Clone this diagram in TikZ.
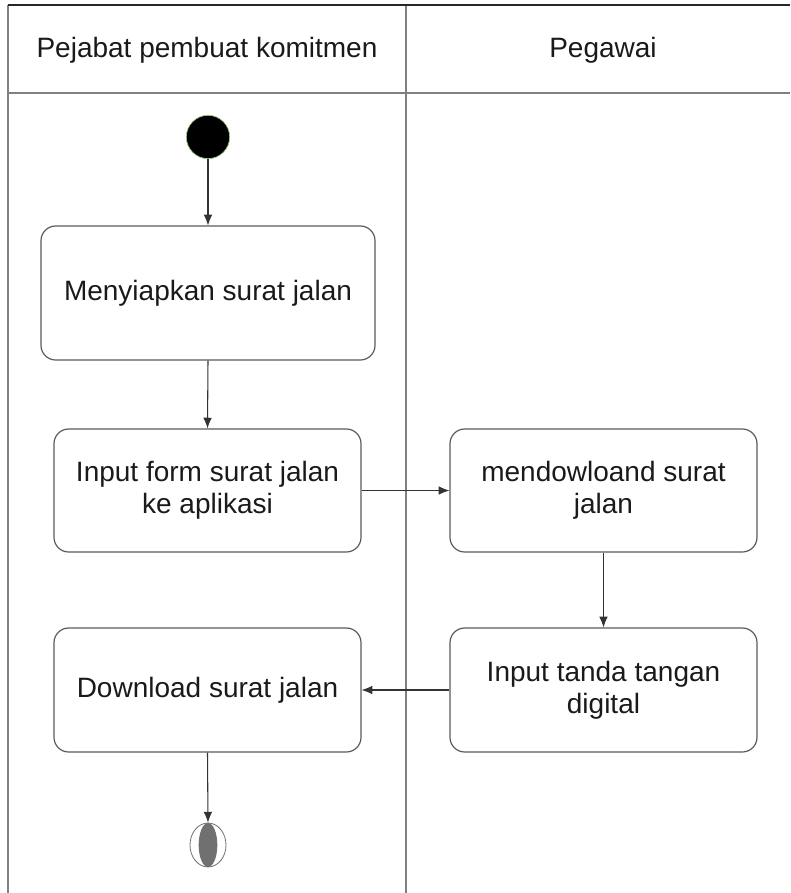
\documentclass[tikz,border=0pt]{standalone}
\usepackage{fontspec}
\setmainfont{Liberation Sans}
\usetikzlibrary{arrows.meta,shapes.geometric}
\definecolor{lanegray}{HTML}{808080}
\definecolor{boxgray}{HTML}{5A5A5A}
\definecolor{arrowgray}{HTML}{333333}
\definecolor{txt}{HTML}{1A1A1A}
\definecolor{endgray}{HTML}{707070}
\begin{document}
\begin{tikzpicture}[x=0.75pt,y=-0.75pt,
  every node/.style={font=\fontsize{21pt}{24pt}\selectfont, text=txt},
  actbox/.style={draw=boxgray, line width=0.9pt, rounded corners=11pt, align=center, inner sep=0pt},
  flow/.style={draw=arrowgray, line width=0.8pt, -{Latex[length=8pt,width=6.5pt]}},
  lane/.style={draw=lanegray, line width=1.2pt}]
\useasboundingbox (0,0) rectangle (790,893);
% swimlanes
\draw[lane] (8,93) -- (790,93);
\draw[lane] (8,5) -- (8,893);
\draw[lane] (406,5) -- (406,893);
\draw[draw=black!85, line width=1.2pt] (8,5) -- (790,5);
\node (h1) at (207,50) {Pejabat pembuat komitmen};
\node (h2) at (603,50) {Pegawai};
% start
\node[circle, fill=black, draw={rgb,255:red,150;green,200;blue,130}, line width=0.5pt, minimum size=32.5pt, inner sep=0pt] (start) at (208,137) {};
% activities
\node[actbox, minimum width=250.5pt, minimum height=100.5pt] (b1) at (208,293) {Menyiapkan surat jalan};
\node[actbox, minimum width=230.25pt, minimum height=92.25pt] (b2) at (207.5,490.5) {Input form surat jalan\\ke aplikasi};
\node[actbox, minimum width=230.25pt, minimum height=92.25pt] (b3) at (603.5,490.5) {mendowloand surat\\jalan};
\node[actbox, minimum width=230.25pt, minimum height=93pt] (b4) at (207.5,690) {Download surat jalan};
\node[actbox, minimum width=230.25pt, minimum height=93pt] (b5) at (603.5,690) {Input tanda tangan\\digital};
% end
\node[ellipse, draw=endgray, line width=0.6pt, minimum width=27pt, minimum height=33pt, inner sep=0pt] (end) at (208,845) {};
\node[ellipse, fill=endgray, minimum width=14pt, minimum height=33pt, inner sep=0pt] (endin) at (208,845) {};
% flows
\draw[flow] (start.south) -- (b1.north);
\draw[flow] (b1.south) -- (b2.north);
\draw[flow] (b2.east) -- (b3.west);
\draw[flow] (b3.south) -- (b5.north);
\draw[flow] (b5.west) -- (b4.east);
\draw[flow] (b4.south) -- (end.north);
\end{tikzpicture}
\end{document}
